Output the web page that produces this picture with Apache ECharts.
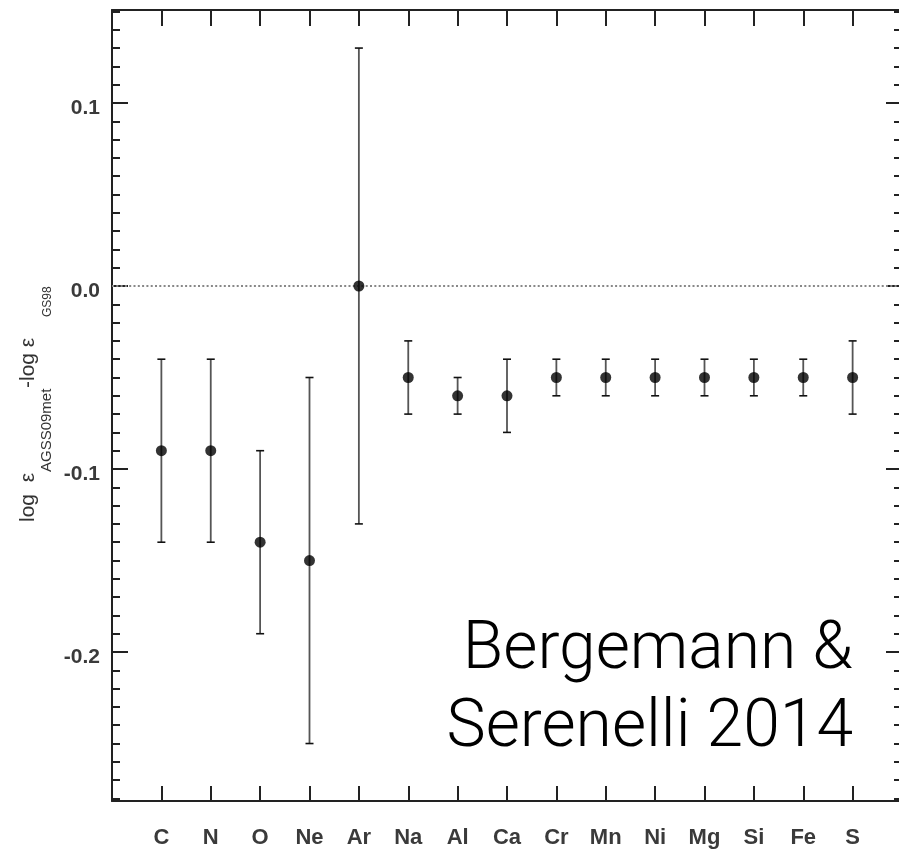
<!DOCTYPE html>
<html>
<head>
<meta charset="utf-8">
<script src="https://cdn.jsdelivr.net/npm/echarts@6/dist/echarts.min.js"></script>
<style>
html,body{margin:0;padding:0;background:#fff;overflow:hidden;}
#chart{width:899px;height:850px;}
</style>
</head>
<body>
<div id="chart"></div>
<script>
const elements = ['C','N','O','Ne','Ar','Na','Al','Ca','Cr','Mn','Ni','Mg','Si','Fe','S'];
const positions = [1,2,3,4,5,6,7,8,9,10,11,12,13,14,15];
const values  = [-0.09,-0.09,-0.14,-0.15,0.00,-0.05,-0.06,-0.06,-0.05,-0.05,-0.05,-0.05,-0.05,-0.05,-0.05];
const errLow  = [-0.14,-0.14,-0.19,-0.25,-0.13,-0.07,-0.07,-0.08,-0.06,-0.06,-0.06,-0.06,-0.06,-0.06,-0.07];
const errHigh = [-0.04,-0.04,-0.09,-0.05, 0.13,-0.03,-0.05,-0.04,-0.04,-0.04,-0.04,-0.04,-0.04,-0.04,-0.03];
const yMajorTicks = [-0.2,-0.1,0.0,0.1];
const yMinorTicks = [];
for (let i = -28; i <= 15; i++) { if (i % 10 !== 0) yMinorTicks.push(i/100); }
const yMin = -0.2814, yMax = 0.1508;

const axisColor = '#222';
const chart = echarts.init(document.getElementById('chart'), null, {renderer:'canvas'});

function yAx(position, ticks, len, showLabel, showLine) {
  return {
    type:'value', min:yMin, max:yMax, position:position, offset:0,
    axisLine:{show:showLine, onZero:false, lineStyle:{color:axisColor,width:2}},
    axisTick:{show:true, inside:true, length:len, customValues:ticks, lineStyle:{color:axisColor,width:2}},
    axisLabel:{show:showLabel, customValues:ticks, formatter:v=>v.toFixed(1), margin:12,
      fontFamily:'Liberation Sans, Arial, sans-serif', fontSize:21, fontWeight:'bold', color:'#3a3a3a',
      verticalAlign:'top', lineHeight:10},
    splitLine:{show:false}
  };
}

const option = {
  animation:false,
  backgroundColor:'#fff',
  grid:{left:112, top:10, width:790, height:791, containLabel:false, outerBoundsMode:'none'},
  xAxis:[{
    type:'value', min:0, max:16, position:'bottom',
    axisLine:{show:true, onZero:false, lineStyle:{color:axisColor,width:2}},
    axisTick:{show:true, inside:true, length:15, customValues:positions, lineStyle:{color:axisColor,width:2}},
    axisLabel:{show:true, customValues:positions, formatter:v=>elements[Math.round(v)-1]||'', margin:26,
      fontFamily:'Liberation Sans, Arial, sans-serif', fontSize:22, fontWeight:'bold', color:'#3a3a3a'},
    splitLine:{show:false}
  },{
    type:'value', min:0, max:16, position:'top',
    axisLine:{show:true, onZero:false, lineStyle:{color:axisColor,width:2}},
    axisTick:{show:true, inside:true, length:16, customValues:positions, lineStyle:{color:axisColor,width:2}},
    axisLabel:{show:false},
    splitLine:{show:false}
  }],
  yAxis:[
    yAx('left', yMajorTicks, 16, true, true),
    yAx('left', yMinorTicks, 8, false, false),
    yAx('right', yMajorTicks, 16, false, false),
    yAx('right', yMinorTicks, 8, false, false)
  ],
  series:[{
    type:'custom',
    xAxisIndex:0, yAxisIndex:0,
    encode:{x:0, y:[1,2]},
    data: positions.map((p,i)=>[p, errLow[i], errHigh[i]]),
    renderItem:function(params, api){
      const lo = api.coord([api.value(0), api.value(1)]);
      const hi = api.coord([api.value(0), api.value(2)]);
      const cw = 4;
      return {type:'group', children:[
        {type:'line', shape:{x1:lo[0],y1:lo[1],x2:hi[0],y2:hi[1]}, style:{stroke:'#555',lineWidth:1.8}},
        {type:'line', shape:{x1:lo[0]-cw,y1:lo[1],x2:lo[0]+cw,y2:lo[1]}, style:{stroke:'#111',lineWidth:1.6}},
        {type:'line', shape:{x1:hi[0]-cw,y1:hi[1],x2:hi[0]+cw,y2:hi[1]}, style:{stroke:'#111',lineWidth:1.6}}
      ]};
    },
    z:2
  },{
    type:'scatter',
    xAxisIndex:0, yAxisIndex:0,
    data: positions.map((p,i)=>[p, values[i]]),
    symbol:'circle', symbolSize:11,
    itemStyle:{color:'#000'},
    z:3,
    markLine:{
      silent:true, symbol:['none','none'], animation:false,
      label:{show:false},
      lineStyle:{color:'#888', width:2, type:[2,2.3]},
      emphasis:{disabled:true},
      data:[{yAxis:0}],
      z:1
    }
  }],
  graphic:[
    {type:'text', x:28, y:522, rotation:Math.PI/2, style:{text:'log  \u03b5', fontFamily:'Liberation Sans, Arial, sans-serif', fontSize:21, fill:'#333', align:'left', verticalAlign:'middle'}},
    {type:'text', x:47, y:472, rotation:Math.PI/2, style:{text:'AGSS09met', fontFamily:'Liberation Sans, Arial, sans-serif', fontSize:15, fill:'#333', align:'left', verticalAlign:'middle'}},
    {type:'text', x:28, y:388, rotation:Math.PI/2, style:{text:'-log \u03b5', fontFamily:'Liberation Sans, Arial, sans-serif', fontSize:21, fill:'#333', align:'left', verticalAlign:'middle'}},
    {type:'text', x:48, y:317, rotation:Math.PI/2, style:{text:'GS98', fontFamily:'Liberation Sans, Arial, sans-serif', fontSize:12, fill:'#333', align:'left', verticalAlign:'middle'}},
    {type:'text', x:853, y:651, style:{text:'Bergemann &', fontFamily:'Roboto, Lato, sans-serif', fontWeight:300, fontSize:66, fill:'#000', align:'right', verticalAlign:'middle'}},
    {type:'text', x:853, y:729, style:{text:'Serenelli 2014', fontFamily:'Roboto, Lato, sans-serif', fontWeight:300, fontSize:66, fill:'#000', align:'right', verticalAlign:'middle'}}
  ]
};
chart.setOption(option);
</script>
</body>
</html>
